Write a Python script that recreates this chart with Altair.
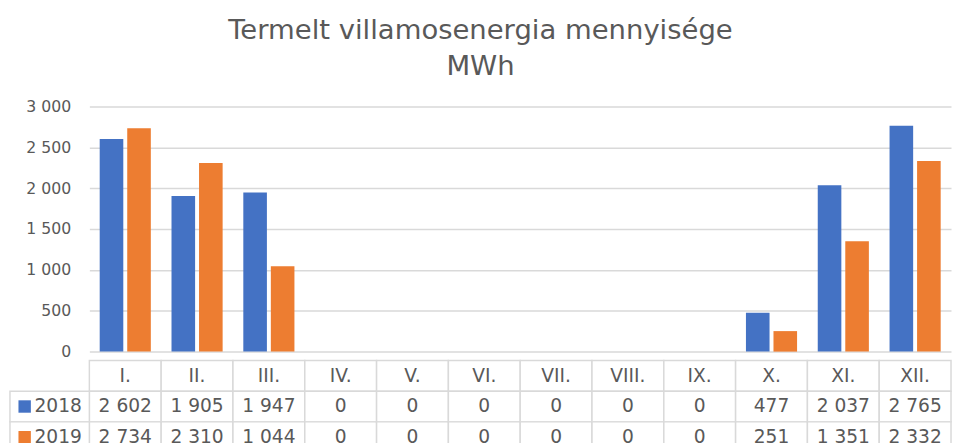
import altair as alt
import pandas as pd

months = ["I.", "II.", "III.", "IV.", "V.", "VI.", "VII.", "VIII.", "IX.", "X.", "XI.", "XII."]
years = ["2018", "2019"]
v2018 = [2602, 1905, 1947, 0, 0, 0, 0, 0, 0, 477, 2037, 2765]
v2019 = [2734, 2310, 1044, 0, 0, 0, 0, 0, 0, 251, 1351, 2332]
colors = ["#4472C4", "#ED7D31"]
y_ticks = [0, 500, 1000, 1500, 2000, 2500, 3000]
title_lines = ["Termelt villamosenergia mennyisége", "MWh"]

FONT = "DejaVu Sans"
GRAY = "#595959"
LINE = "#d9d9d9"


def fmt(v):
    return f"{v:,}".replace(",", " ")


rows = []
for m, a, b in zip(months, v2018, v2019):
    rows.append({"month": m, "year": "2018", "value": a})
    rows.append({"month": m, "year": "2019", "value": b})
bar_df = pd.DataFrame(rows)

row_keys = ["hdr"] + years
tab = []
for m, a, b in zip(months, v2018, v2019):
    tab.append({"month": m, "row": "hdr", "label": m})
    tab.append({"month": m, "row": "2018", "label": fmt(a)})
    tab.append({"month": m, "row": "2019", "label": fmt(b)})
tab_df = pd.DataFrame(tab)
leg_df = pd.DataFrame({"row": years, "year": years})

color_scale = alt.Scale(domain=years, range=colors)

bars = alt.Chart(bar_df).mark_bar().encode(
    x=alt.X("month:N", scale=alt.Scale(domain=months, paddingInner=0.288, paddingOuter=0.144), axis=None),
    xOffset=alt.XOffset("year:N", scale=alt.Scale(domain=years, paddingInner=0.143, paddingOuter=0)),
    y=alt.Y(
        "value:Q",
        scale=alt.Scale(domain=[0, 3000], nice=False),
        axis=alt.Axis(
            values=y_ticks,
            labelExpr="replace(format(datum.value, ','), ',', ' ')",
            title=None,
            domain=False,
            ticks=False,
            labelPadding=19,
            labelFont=FONT,
            labelFontSize=16,
            labelColor=GRAY,
            gridColor=LINE,
            gridWidth=1.5,
        ),
    ),
    color=alt.Color("year:N", scale=color_scale, legend=None),
).properties(width=879, height=250)

xs = alt.X("month:N", scale=alt.Scale(domain=months, paddingInner=0, paddingOuter=0), axis=None)
ys = alt.Y("row:N", scale=alt.Scale(domain=row_keys, paddingInner=0, paddingOuter=0), axis=None)

cells = alt.Chart(tab_df).mark_rect(fill="white", stroke=LINE, strokeWidth=1.5).encode(x=xs, y=ys)
cell_text = alt.Chart(tab_df).mark_text(font=FONT, fontSize=19, color=GRAY).encode(x=xs, y=ys, text="label:N")

leg_cells = alt.Chart(leg_df).mark_rect(fill="white", stroke=LINE, strokeWidth=1.5).encode(
    x=alt.value(-81), x2=alt.value(0), y=ys
)
leg_sq = alt.Chart(leg_df).mark_square(size=160, opacity=1).encode(
    x=alt.value(-66), y=ys, color=alt.Color("year:N", scale=color_scale, legend=None)
)
leg_txt = alt.Chart(leg_df).mark_text(font=FONT, fontSize=19, color=GRAY, align="left").encode(
    x=alt.value(-56), y=ys, text="year:N"
)

table = alt.layer(cells, cell_text, leg_cells, leg_sq, leg_txt).properties(width=879, height=94)

chart = alt.vconcat(bars, table, spacing=0).properties(
    title=alt.TitleParams(
        title_lines,
        font=FONT,
        fontSize=28,
        fontWeight="normal",
        color=GRAY,
        anchor="middle",
        frame="bounds",
        lineHeight=37,
        offset=18,
    ),
    padding={"left": 1, "top": 5, "right": 0, "bottom": 0},
).configure_view(stroke=None)

chart.save("out.html", embed_options={"renderer": "svg", "actions": False})
